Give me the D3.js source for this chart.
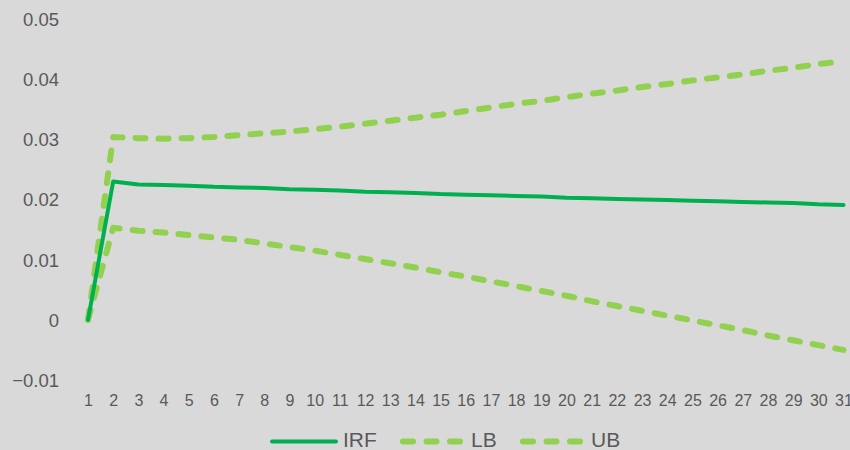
<!DOCTYPE html>
<html>
<head>
<meta charset="utf-8">
<script src="https://cdn.jsdelivr.net/npm/d3@7"></script>
<style>
  html, body { margin: 0; padding: 0; background: #d9d9d9; }
  svg { display: block; }
  text { font-family: "Liberation Sans", Arial, sans-serif; fill: #595959; }
</style>
</head>
<body>
<svg id="chart" width="850" height="450"></svg>
<script>
const periods = d3.range(1, 32);
const irf = [0, 0.0230, 0.0225, 0.0224, 0.0223, 0.0221, 0.0220, 0.0219, 0.0217, 0.0216,
  0.0215, 0.0213, 0.0212, 0.0211, 0.0209, 0.0208, 0.0207, 0.0206, 0.0205, 0.0203,
  0.0202, 0.0201, 0.0200, 0.0199, 0.0198, 0.0197, 0.0196, 0.0195, 0.0194, 0.0192, 0.0191];
const lb = [0, 0.0153, 0.0148, 0.0145, 0.0141, 0.0137, 0.0133, 0.0127, 0.0121, 0.0115,
  0.0108, 0.0101, 0.0094, 0.0087, 0.0079, 0.0072, 0.0064, 0.0056, 0.0048, 0.0040,
  0.0031, 0.0023, 0.0015, 0.0007, -0.0001, -0.0009, -0.0017, -0.0026, -0.0034, -0.0042, -0.0050];
const ub = [0, 0.0304, 0.0302, 0.0301, 0.0302, 0.0304, 0.0307, 0.0310, 0.0313, 0.0317,
  0.0321, 0.0326, 0.0331, 0.0336, 0.0341, 0.0347, 0.0353, 0.0359, 0.0364, 0.0370,
  0.0376, 0.0381, 0.0387, 0.0392, 0.0398, 0.0403, 0.0408, 0.0414, 0.0419, 0.0425, 0.0430];
const yTicks = [-0.01, 0, 0.01, 0.02, 0.03, 0.04, 0.05];
const seriesNames = ["IRF", "LB", "UB"];

const svg = d3.select("#chart");
svg.append("rect").attr("width", 850).attr("height", 450).attr("fill", "#d9d9d9");

const x = d3.scaleLinear().domain([1, 31]).range([88, 843.5]);
const y = d3.scaleLinear().domain([-0.01, 0.05]).range([380, 19]);

// gridlines (very faint)
svg.append("g").selectAll("line").data(yTicks).join("line")
  .attr("x1", x(1)).attr("x2", x(31))
  .attr("y1", d => y(d)).attr("y2", d => y(d))
  .attr("stroke", "#dbdbdb").attr("stroke-width", 1);

// y axis labels
const yAxis = d3.axisLeft(y).tickValues(yTicks).tickSize(0).tickPadding(0)
  .tickFormat(d => d === 0 ? "0" : d3.format("")(+d.toFixed(2)));
const gy = svg.append("g").attr("transform", "translate(59,0)").call(yAxis);
gy.select(".domain").remove();
gy.selectAll("text").attr("font-size", 18.5).attr("dy", "0.35em")
  .style("font-family", "'Liberation Sans', Arial, sans-serif").attr("fill", "#595959");

// x axis labels
const xAxis = d3.axisBottom(x).tickValues(periods).tickSize(0).tickPadding(0).tickFormat(d3.format("d"));
const gx = svg.append("g").attr("transform", "translate(0,389.5)").call(xAxis);
gx.select(".domain").remove();
gx.selectAll("text").attr("font-size", 16).attr("dy", "1.0em").attr("y", 0)
  .style("font-family", "'Liberation Sans', Arial, sans-serif").attr("fill", "#595959");

const line = d3.line().x((d, i) => x(periods[i])).y(d => y(d));

const dash = "10,13";
svg.append("path").datum(lb).attr("d", line).attr("fill", "none")
  .attr("stroke", "#92d050").attr("stroke-width", 6).attr("stroke-linecap", "round")
  .attr("stroke-linejoin", "round").attr("stroke-dasharray", dash);
svg.append("path").datum(ub).attr("d", line).attr("fill", "none")
  .attr("stroke", "#92d050").attr("stroke-width", 6).attr("stroke-linecap", "round")
  .attr("stroke-linejoin", "round").attr("stroke-dasharray", dash);
svg.append("path").datum(irf).attr("d", line).attr("fill", "none")
  .attr("stroke", "#00b050").attr("stroke-width", 4).attr("stroke-linecap", "round")
  .attr("stroke-linejoin", "round");

// legend
const legend = [
  {name: seriesNames[0], color: "#00b050", x0: 272, x1: 336, tx: 343, w: 4, dash: null},
  {name: seriesNames[1], color: "#92d050", x0: 403, x1: 461, tx: 471, w: 6, dash: "10,13.5"},
  {name: seriesNames[2], color: "#92d050", x0: 523, x1: 581, tx: 591, w: 6, dash: "10,13.5"}
];
const lg = svg.append("g");
legend.forEach(l => {
  lg.append("line").attr("x1", l.x0).attr("x2", l.x1).attr("y1", 441.5).attr("y2", 441.5)
    .attr("stroke", l.color).attr("stroke-width", l.w).attr("stroke-linecap", "round")
    .attr("stroke-dasharray", l.dash);
  lg.append("text").attr("x", l.tx).attr("y", 447).attr("font-size", 21).text(l.name);
});
</script>
</body>
</html>
